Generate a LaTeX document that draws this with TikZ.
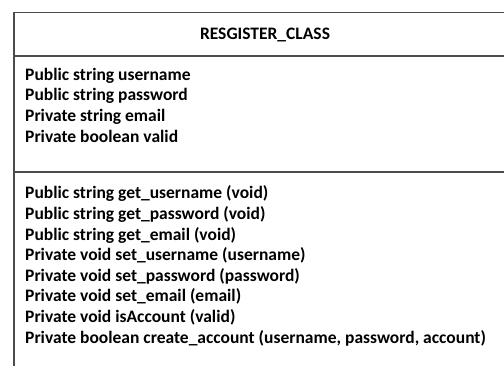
\documentclass[tikz,border=0pt]{standalone}
\usepackage{fontspec}
\setmainfont{Carlito}
\begin{document}
\begin{tikzpicture}[x=1pt,y=-1pt,
  frame/.style={draw=black!70, line width=1.3pt},
  title/.style={font=\bfseries\fontsize{17.5}{20.6}\selectfont, inner sep=0pt, anchor=base},
  members/.style={font=\bfseries\fontsize{17.5}{20.6}\selectfont, align=left, inner sep=0pt, anchor=base west}]
\useasboundingbox (0,0) rectangle (504,365);
\begin{scope}
\clip (0,0) rectangle (504,365);
% class box: outline, title separator and compartment separator
\draw[frame] (520,12.7) -- (14,12.7) -- (14,380);
\draw[frame] (14,56) -- (520,56);
\draw[frame] (14,172) -- (520,172);
\end{scope}
\node[title] (cls) at (265,39) {RESGISTER\_CLASS};
% anchored at the baseline of the last line of each compartment
\node[members] (attrs) at (25,142) {Public string username\\
Public string password\\
Private string email\\
Private boolean valid};
\node[members] (ops) at (25,343) {Public string get\_username (void)\\
Public string get\_password (void)\\
Public string get\_email (void)\\
Private void set\_username (username)\\
Private void set\_password (password)\\
Private void set\_email (email)\\
Private void isAccount (valid)\\
Private boolean create\_account (username, password, account)};
\end{tikzpicture}
\end{document}
